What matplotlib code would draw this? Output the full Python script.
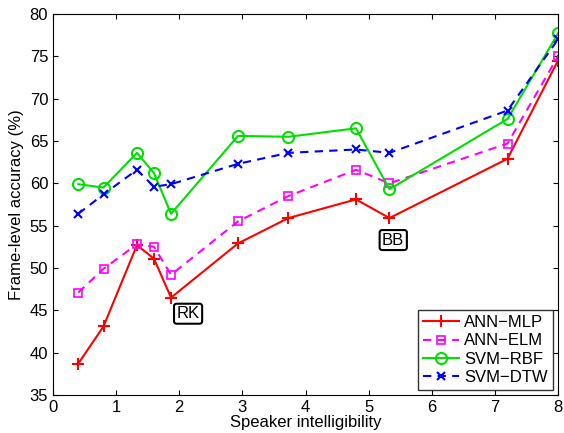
import matplotlib
matplotlib.use('Agg')
import matplotlib.pyplot as plt

intell = [0.4, 0.8, 1.33, 1.6, 1.87, 2.93, 3.73, 4.8, 5.33, 7.2, 8.0]
ann_mlp = [38.7, 43.1, 52.7, 51.1, 46.5, 52.9, 55.9, 58.1, 55.9, 62.9, 74.5]
ann_elm = [47.1, 49.9, 52.8, 52.5, 49.2, 55.5, 58.5, 61.6, 60.0, 64.7, 75.0]
svm_rbf = [59.9, 59.5, 63.6, 61.2, 56.4, 65.6, 65.5, 66.5, 59.3, 67.6, 77.7]
svm_dtw = [56.4, 58.7, 61.6, 59.6, 59.9, 62.3, 63.6, 64.0, 63.6, 68.6, 77.0]

plt.rcParams['font.family'] = ['Liberation Sans', 'DejaVu Sans']
fig = plt.figure(figsize=(5.64, 4.33), dpi=100)
ax = fig.add_axes([53/564, 1 - 395/433, 505/564, 381/433])

ax.plot(intell, ann_mlp, '-', color='red', marker='+', ms=8, mew=1.5, lw=1.5, label='ANN\u2212MLP')
ax.plot(intell, ann_elm, '--', color='magenta', marker='s', ms=5.5, mfc='none', mew=1.2, lw=1.5,
        dashes=(4, 3), label='ANN\u2212ELM')
ax.plot(intell, svm_rbf, '-', color='#00e000', marker='o', ms=8, mfc='none', mew=1.5, lw=1.5, label='SVM\u2212RBF')
ax.plot(intell, svm_dtw, '--', color='blue', marker='x', ms=6, mew=1.5, lw=1.5,
        dashes=(4, 3), label='SVM\u2212DTW')

box = dict(boxstyle='round,pad=0.15', fc='white', ec='black', lw=1.5)
ax.text(2.14, 44.6, 'RK', fontsize=12, ha='center', va='center', bbox=box)
ax.text(5.39, 53.3, 'BB', fontsize=12, ha='center', va='center', bbox=box)

ax.set_xlim(0, 8)
ax.set_ylim(35, 80)
ax.set_xticks(range(0, 9))
ax.set_yticks(range(35, 81, 5))
ax.tick_params(direction='in', top=True, right=True, labelsize=12)
ax.set_xlabel('Speaker intelligibility', fontsize=12, labelpad=0)
ax.set_ylabel('Frame-level accuracy (%)', fontsize=12)

leg = ax.legend(loc='lower right', fontsize=12, fancybox=False, edgecolor='black',
                handlelength=2.2, borderpad=0.3, labelspacing=0.2, handletextpad=0.3,
                borderaxespad=0.3)
leg.get_frame().set_linewidth(1.0)

fig.savefig('out.png', dpi=100)
